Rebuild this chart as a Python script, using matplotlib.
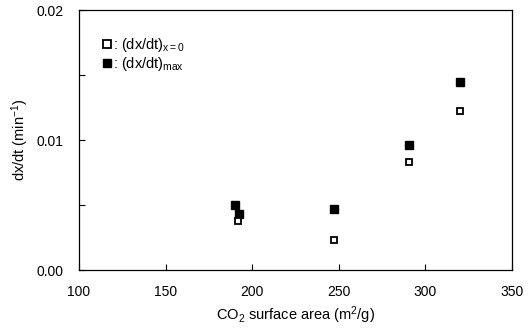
import matplotlib
matplotlib.use("Agg")
import matplotlib.pyplot as plt
from matplotlib.ticker import MultipleLocator

plt.rcParams['font.family'] = ['Liberation Sans', 'DejaVu Sans']
plt.rcParams['mathtext.fontset'] = 'custom'
plt.rcParams['mathtext.rm'] = 'Liberation Sans'
plt.rcParams['mathtext.it'] = 'Liberation Sans'

# CO2 surface area (m2/g)
area_open = [192, 247.5, 290.5, 320]
rate_x0 = [0.0038, 0.0023, 0.0083, 0.0122]

area_filled = [190, 192.5, 247.5, 290.5, 320]
rate_max = [0.0050, 0.0043, 0.0047, 0.0096, 0.0145]

fig = plt.figure(figsize=(5.28, 3.29), dpi=100)
ax = fig.add_axes([0.1496, 0.1793, 0.8201, 0.7903])

ax.plot(area_filled, rate_max, ls='none', marker='s', ms=5.2,
        mfc='black', mec='black', label=': (dx/dt)$_{\\mathrm{max}}$', zorder=3)
ax.plot(area_open, rate_x0, ls='none', marker='s', ms=5,
        mfc='white', mec='black', mew=1.3, label=': (dx/dt)$_{\\mathrm{x=0}}$', zorder=4)

ax.set_xlim(100, 350)
ax.set_ylim(0, 0.02)
ax.set_xticks([100, 150, 200, 250, 300, 350])
ax.set_yticks([0.0, 0.01, 0.02])
ax.set_yticklabels(['0.00', '0.01', '0.02'])
ax.yaxis.set_minor_locator(MultipleLocator(0.005))
ax.tick_params(axis='both', which='both', direction='in', labelsize=10, length=4, width=0.8)
ax.tick_params(axis='x', pad=11)
ax.tick_params(axis='y', pad=11)
for s in ax.spines.values():
    s.set_linewidth(0.9)

ax.set_xlabel('CO$_2$ surface area (m$^2$/g)', fontsize=10.5, labelpad=4)
ax.set_ylabel('dx/dt (min$^{-1}$)', fontsize=10.5, labelpad=4)

h, l = ax.get_legend_handles_labels()
ax.legend(h[::-1], l[::-1], loc='upper left', bbox_to_anchor=(0.02, 0.95),
          frameon=False, fontsize=10.5, handletextpad=0.05, handlelength=0.8,
          labelspacing=0.05, numpoints=1, markerscale=1.05)

fig.savefig('out.png', dpi=100)
